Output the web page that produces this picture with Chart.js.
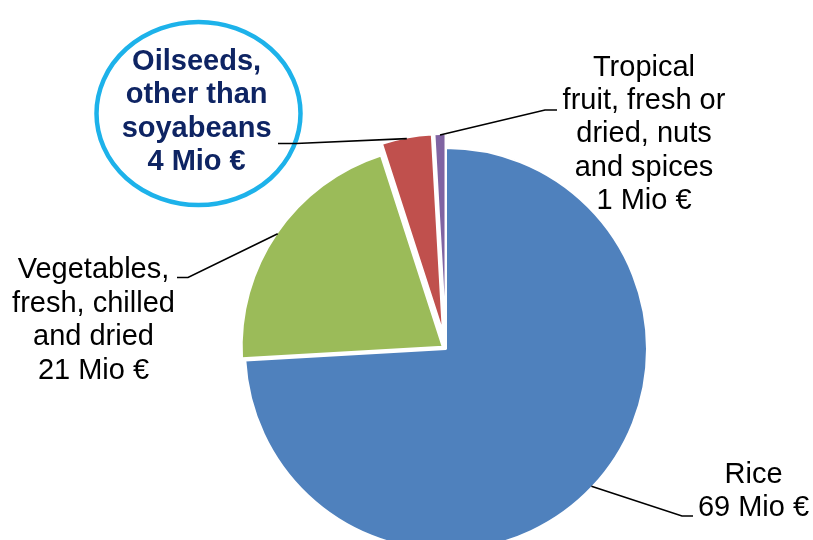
<!DOCTYPE html>
<html>
<head>
<meta charset="utf-8">
<script src="https://cdn.jsdelivr.net/npm/chart.js@4.4.0/dist/chart.umd.min.js"></script>
<style>
html, body { margin: 0; padding: 0; background: #fff; }
</style>
</head>
<body>
<canvas id="chart-area" width="813" height="540"></canvas>
<script>
// slices, clockwise from 12 o'clock
var categories = ['Rice', 'Vegetables, fresh, chilled and dried', 'Oilseeds, other than soyabeans', 'Tropical fruit, fresh or dried, nuts and spices'];
var labelLines = [
	['Rice'],
	['Vegetables,', 'fresh, chilled', 'and dried'],
	['Oilseeds,', 'other than', 'soyabeans'],
	['Tropical', 'fruit, fresh or', 'dried, nuts', 'and spices']
];
var sliceValues = [69, 19.5, 3.8, 0.83];   // Mio €
var labelAmounts = [69, 21, 4, 1];         // Mio €, as printed on the labels

var colors = ['#4F81BD', '#9BBB59', '#C0504D', '#8064A2'];
var explode = [0, 4, 17, 17];       // px each slice is pulled out
var sliceRadius = [201, 201, 198, 198];

// where each label sits and how its leader line bends
var labelLayout = [
	{ x: 753.5, y: 482.5, elbow: [682, 516], end: [693, 516] },
	{ x: 93.5, y: 278.3, elbow: [188, 277.5], end: [177, 277.5] },
	{ x: 196.6, y: 70, elbow: [296, 143.5], end: [278, 143.5] },
	{ x: 644, y: 75.5, elbow: [545, 110], end: [557, 110] }
];
var lineH = 33.4;

// pull slices out like the excel "explode", without chart.js shrinking their angle
var explodeFix = {
	id: 'explodeFix',
	afterDatasetsUpdate: function(chart) {
		var meta = chart.getDatasetMeta(0);
		meta.data.forEach(function(arc, i) {
			var mid = (arc.startAngle + arc.endAngle) / 2;
			arc.x += Math.cos(mid) * explode[i];
			arc.y += Math.sin(mid) * explode[i];
			arc.outerRadius = sliceRadius[i];
		});
	}
};

var labelsPlugin = {
	id: 'pieLabels',
	afterDraw: function(chart) {
		var ctx = chart.ctx;
		var meta = chart.getDatasetMeta(0);
		ctx.save();

		// circle round the oilseeds label
		ctx.beginPath();
		ctx.ellipse(198.5, 113.5, 102, 91.5, 0, 0, Math.PI * 2);
		ctx.lineWidth = 4.5;
		ctx.strokeStyle = '#1DB2EA';
		ctx.stroke();

		meta.data.forEach(function(arc, i) {
			var lay = labelLayout[i];
			var mid = (arc.startAngle + arc.endAngle) / 2;
			var r = sliceRadius[i] - 1;
			var sx = arc.x + Math.cos(mid) * r;
			var sy = arc.y + Math.sin(mid) * r;

			ctx.beginPath();
			ctx.moveTo(sx, sy);
			ctx.lineTo(lay.elbow[0], lay.elbow[1]);
			ctx.lineTo(lay.end[0], lay.end[1]);
			ctx.lineWidth = 1.6;
			ctx.strokeStyle = '#000';
			ctx.stroke();

			var lines = labelLines[i].concat([labelAmounts[i] + ' Mio €']);
			if (i == 2) {
				ctx.font = 'bold 29px "Liberation Sans", Arial, sans-serif';
				ctx.fillStyle = '#0E2463';
			} else {
				ctx.font = '29px "Liberation Sans", Arial, sans-serif';
				ctx.fillStyle = '#000';
			}
			ctx.textAlign = 'center';
			ctx.textBaseline = 'alphabetic';
			lines.forEach(function(t, k) {
				ctx.fillText(t, lay.x, lay.y + k * lineH);
			});
		});
		ctx.restore();
	}
};

var config = {
	type: 'pie',
	data: {
		labels: categories,
		datasets: [{
			data: sliceValues,
			backgroundColor: colors,
			borderColor: '#fff',
			borderWidth: 2,
			clip: false
		}]
	},
	options: {
		responsive: false,
		animation: false,
		devicePixelRatio: 1,
		events: [],
		radius: 201,
		layout: { padding: { left: 79, right: 0, top: 158, bottom: 0 } },
		plugins: {
			legend: { display: false },
			tooltip: { enabled: false }
		}
	},
	plugins: [explodeFix, labelsPlugin]
};

var ctx = document.getElementById('chart-area').getContext('2d');
window.myPie = new Chart(ctx, config);
</script>
</body>
</html>
